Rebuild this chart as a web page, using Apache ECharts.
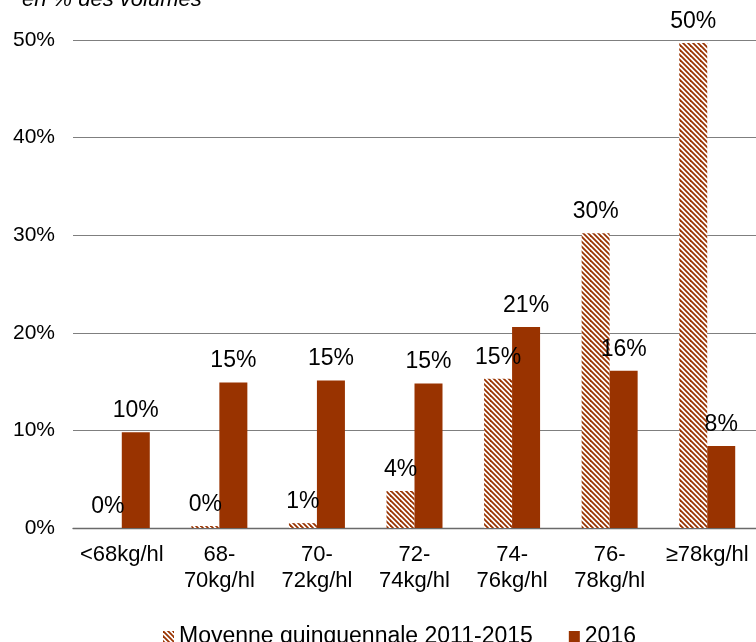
<!DOCTYPE html>
<html>
<head>
<meta charset="utf-8">
<script src="https://cdn.jsdelivr.net/npm/echarts@6/dist/echarts.min.js"></script>
<style>
html,body{margin:0;padding:0;background:#fff;}
#c{width:756px;height:642px;}
</style>
</head>
<body>
<div id="c"></div>
<script>
const categories = ['<68kg/hl', '68-\n70kg/hl', '70-\n72kg/hl', '72-\n74kg/hl', '74-\n76kg/hl', '76-\n78kg/hl', '≥78kg/hl'];
const moyenneValues = [0, 0.2, 0.5, 3.8, 15.3, 30.2, 49.7];
const values2016 = [9.8, 14.9, 15.1, 14.8, 20.6, 16.1, 8.4];
const seriesNames = ['Moyenne quinquennale 2011-2015', '2016'];
const yTicks = [0, 10, 20, 30, 40, 50];
const subtitle = 'en % des volumes';

const BROWN = '#993300';
const FONT = '"Liberation Sans", Arial, sans-serif';

function makeHatch() {
  const s = 10, p = 5;
  const cv = document.createElement('canvas');
  cv.width = s; cv.height = s;
  const ctx = cv.getContext('2d');
  ctx.fillStyle = '#ffffff';
  ctx.fillRect(0, 0, s, s);
  ctx.strokeStyle = BROWN;
  ctx.lineWidth = 1.8;
  for (let k = -3; k <= 3; k++) {
    const off = k * p;
    ctx.beginPath();
    ctx.moveTo(off - 3, -3);
    ctx.lineTo(off + s + 3, s + 3);
    ctx.stroke();
  }
  return cv;
}
const hatch = makeHatch();

const chart = echarts.init(document.getElementById('c'), null, {renderer: 'canvas'});
const labelCfg = {
  show: true,
  position: 'top',
  distance: 10,
  fontFamily: FONT,
  fontSize: 23,
  color: '#000',
  formatter: p => Math.round(p.value) + '%'
};
chart.setOption({
  animation: false,
  textStyle: {fontFamily: FONT},
  graphic: [{
    type: 'text',
    left: 22,
    top: -11,
    style: {text: subtitle, fontFamily: FONT, fontSize: 22, fontStyle: 'italic', fill: '#000'}
  }],
  legend: {
    left: 158,
    top: 620,
    itemWidth: 11,
    itemHeight: 11,
    itemGap: 36,
    icon: 'rect',
    textStyle: {fontFamily: FONT, fontSize: 23, color: '#000', padding: [0, 0, 0, 0]},
    data: seriesNames
  },
  grid: {left: 73, top: 40, width: 686, bottom: 114, containLabel: false},
  xAxis: {
    type: 'category',
    data: categories,
    axisTick: {show: false},
    axisLine: {lineStyle: {color: '#6a6a6a', width: 1.3}},
    axisLabel: {fontFamily: FONT, fontSize: 22, color: '#000', margin: 14, lineHeight: 26, interval: 0}
  },
  yAxis: {
    type: 'value',
    min: yTicks[0],
    max: yTicks[yTicks.length - 1],
    interval: 10,
    axisLine: {show: false},
    axisTick: {show: false},
    splitLine: {lineStyle: {color: '#7f7f7f', width: 1.2}},
    axisLabel: {fontFamily: FONT, fontSize: 21, color: '#000', margin: 18, formatter: v => v + '%'}
  },
  series: [
    {
      name: seriesNames[0],
      type: 'bar',
      data: moyenneValues,
      barWidth: 28,
      barGap: '0%',
      itemStyle: {color: {image: hatch, repeat: 'repeat'}},
      label: labelCfg
    },
    {
      name: seriesNames[1],
      type: 'bar',
      data: values2016,
      barWidth: 28,
      barGap: '0%',
      itemStyle: {color: BROWN},
      label: labelCfg
    }
  ]
});
</script>
</body>
</html>
